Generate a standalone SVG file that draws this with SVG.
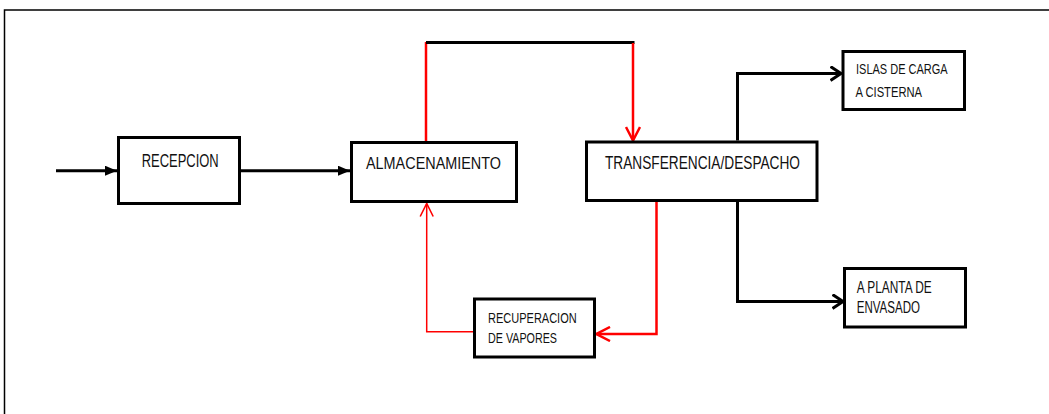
<svg xmlns="http://www.w3.org/2000/svg" width="1049" height="414" viewBox="0 0 1049 414">
<style>
.box{fill:#fff;stroke:#000;stroke-width:3}
.t{font-family:"Liberation Sans",Arial,sans-serif;fill:#111}
.bk{fill:none;stroke:#000;stroke-width:3}
.rd{fill:none;stroke:#f00;stroke-width:2.5}
.rt{fill:none;stroke:#f00;stroke-width:1.5}
</style>
<defs>
<marker id="fa" viewBox="0 0 12 10" refX="12" refY="5" markerWidth="12" markerHeight="10" markerUnits="userSpaceOnUse" orient="auto">
<path d="M0,0 L12,5 L0,10 z" fill="#000"/>
</marker>
<marker id="cb" viewBox="0 0 13 16" refX="11.5" refY="8" markerWidth="13" markerHeight="16" markerUnits="userSpaceOnUse" orient="auto">
<path d="M1,1 L11.5,8 L1,15" fill="none" stroke="#000" stroke-width="3"/>
</marker>
<marker id="cr" viewBox="0 0 16 16" refX="14.5" refY="8" markerWidth="16" markerHeight="16" markerUnits="userSpaceOnUse" orient="auto">
<path d="M1,1 L14.5,8 L1,15" fill="none" stroke="#f00" stroke-width="2.5"/>
</marker>
<marker id="ct" viewBox="0 0 15 15" refX="14" refY="7.5" markerWidth="15" markerHeight="15" markerUnits="userSpaceOnUse" orient="auto">
<path d="M1,1 L14,7.5 L1,14" fill="none" stroke="#f00" stroke-width="1.6"/>
</marker>
</defs>
<rect width="1049" height="414" fill="#fff"/>
<path d="M4.5,414 V10 H1049" fill="none" stroke="#000" stroke-width="1.5"/>
<g id="connectors">
<path class="bk" d="M56,170.7 H117" marker-end="url(#fa)"/>
<path class="bk" d="M241,170.7 H350" marker-end="url(#fa)"/>
<path class="rd" d="M426,141 V42"/>
<path class="bk" d="M426,42.5 H634.5"/>
<path class="rd" d="M633,43 V140.5" marker-end="url(#cr)"/>
<path class="bk" d="M737.5,140.5 V73.5 H841" marker-end="url(#cb)"/>
<path class="bk" d="M737.5,202 V301.5 H843" marker-end="url(#cb)"/>
<path class="rd" d="M656.5,202 V334 H596.5" marker-end="url(#cr)"/>
<path class="rt" d="M474,331.7 H426.7 V203.5" marker-end="url(#ct)"/>
</g>
<g id="recepcion">
<rect class="box" x="118.5" y="137.5" width="121" height="66"/>
<text class="t" x="141.7" y="166.7" font-size="18" textLength="77" lengthAdjust="spacingAndGlyphs">RECEPCION</text>
</g>
<g id="almacenamiento">
<rect class="box" x="351.5" y="142.5" width="165" height="59"/>
<text class="t" x="366" y="169.3" font-size="16" textLength="135" lengthAdjust="spacingAndGlyphs">ALMACENAMIENTO</text>
</g>
<g id="transferencia">
<rect class="box" x="586.5" y="142" width="230.5" height="58.5"/>
<text class="t" x="605" y="169.3" font-size="17.5" textLength="195" lengthAdjust="spacingAndGlyphs">TRANSFERENCIA/DESPACHO</text>
</g>
<g id="islas">
<rect class="box" x="843" y="51.5" width="121.5" height="58"/>
<text class="t" x="856" y="74.3" font-size="15" textLength="91.7" lengthAdjust="spacingAndGlyphs">ISLAS DE CARGA</text>
<text class="t" x="855.5" y="96.7" font-size="15" textLength="66.5" lengthAdjust="spacingAndGlyphs">A CISTERNA</text>
</g>
<g id="planta">
<rect class="box" x="844.5" y="268.5" width="121" height="58.5"/>
<text class="t" x="856.7" y="293.3" font-size="16" textLength="75" lengthAdjust="spacingAndGlyphs">A PLANTA DE</text>
<text class="t" x="856.7" y="313.3" font-size="16" textLength="63.3" lengthAdjust="spacingAndGlyphs">ENVASADO</text>
</g>
<g id="recuperacion">
<rect class="box" x="474.5" y="299" width="120" height="58"/>
<text class="t" x="488" y="322.7" font-size="14" textLength="88.7" lengthAdjust="spacingAndGlyphs">RECUPERACION</text>
<text class="t" x="488" y="343.3" font-size="14" textLength="69" lengthAdjust="spacingAndGlyphs">DE VAPORES</text>
</g>
</svg>
